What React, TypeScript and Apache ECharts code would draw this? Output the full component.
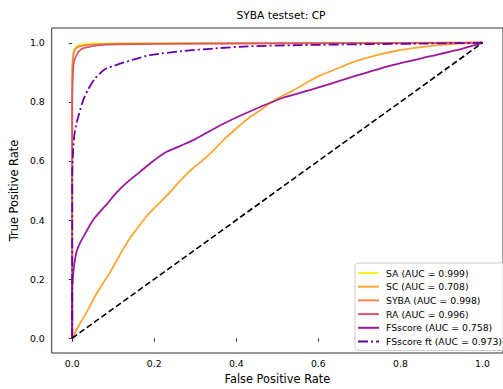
import React, { useEffect, useRef } from "react";
import * as echarts from "echarts";

const FONT = "DejaVu Sans";

const xTicks = [0, 0.2, 0.4, 0.6, 0.8, 1.0];
const yTicks = [0, 0.2, 0.4, 0.6, 0.8, 1.0];

const seriesNames = [
  "SA (AUC = 0.999)",
  "SC (AUC = 0.708)",
  "SYBA (AUC = 0.998)",
  "RA (AUC = 0.996)",
  "FSscore (AUC = 0.758)",
  "FSscore ft (AUC = 0.973)",
];

const saFpr = [0, 0, 0.002, 0.006, 0.012, 0.025, 0.06, 0.2, 1];
const saTpr = [0, 0.9, 0.955, 0.98, 0.99, 0.995, 0.998, 0.999, 1];

const scFpr = [0, 0.01, 0.02, 0.034, 0.054, 0.075, 0.094, 0.118, 0.141, 0.162, 0.181, 0.2, 0.22, 0.24, 0.26, 0.28, 0.3, 0.324, 0.348, 0.371, 0.4, 0.427, 0.46, 0.49, 0.515, 0.538, 0.57, 0.601, 0.645, 0.688, 0.74, 0.791, 0.85, 0.902, 0.95, 1];
const scTpr = [0, 0.027, 0.052, 0.085, 0.138, 0.186, 0.227, 0.287, 0.339, 0.378, 0.412, 0.44, 0.468, 0.497, 0.528, 0.557, 0.582, 0.609, 0.641, 0.674, 0.71, 0.742, 0.773, 0.803, 0.822, 0.838, 0.864, 0.887, 0.912, 0.936, 0.957, 0.973, 0.985, 0.993, 0.997, 1];

const sybaFpr = [0, 0, 0.002, 0.006, 0.015, 0.04, 0.1, 0.3, 1];
const sybaTpr = [0, 0.88, 0.95, 0.975, 0.987, 0.993, 0.996, 0.998, 1];

const raFpr = [0, 0, 0.002, 0.004, 0.011, 0.023, 0.046, 0.077, 0.2, 0.5, 1];
const raTpr = [0, 0.8, 0.9, 0.932, 0.96, 0.979, 0.988, 0.993, 0.996, 0.998, 1];

const fsFpr = [0, 0, 0.002, 0.005, 0.011, 0.02, 0.03, 0.042, 0.054, 0.07, 0.086, 0.1, 0.118, 0.14, 0.165, 0.195, 0.229, 0.265, 0.3, 0.36, 0.427, 0.514, 0.585, 0.688, 0.776, 0.871, 0.934, 1];
const fsTpr = [0, 0.17, 0.21, 0.25, 0.294, 0.325, 0.35, 0.38, 0.406, 0.432, 0.456, 0.48, 0.507, 0.535, 0.563, 0.597, 0.63, 0.652, 0.674, 0.72, 0.764, 0.814, 0.842, 0.887, 0.923, 0.954, 0.974, 1];

const ftFpr = [0, 0, 0.002, 0.005, 0.011, 0.017, 0.023, 0.031, 0.039, 0.054, 0.078, 0.11, 0.149, 0.189, 0.268, 0.348, 0.427, 0.55, 0.7, 0.85, 1];
const ftTpr = [0, 0.55, 0.63, 0.686, 0.73, 0.76, 0.79, 0.82, 0.842, 0.876, 0.909, 0.926, 0.943, 0.958, 0.972, 0.981, 0.988, 0.992, 0.995, 0.997, 1];

const diagFpr = [0, 1];
const diagTpr = [0, 1];

const colors = ["#f0f921", "#fca636", "#f2844b", "#d8576b", "#9c179e", "#6a00a8"];

const zip = (xs: number[], ys: number[]) => xs.map((x, i) => [x, ys[i]]);

export default function App() {
  const ref = useRef<HTMLDivElement>(null);
  useEffect(() => {
    document.body.style.margin = "0";
    if (!ref.current) return;
    const chart = echarts.init(ref.current, undefined, { renderer: "svg" });
    const curves = [
      zip(saFpr, saTpr),
      zip(scFpr, scTpr),
      zip(sybaFpr, sybaTpr),
      zip(raFpr, raTpr),
      zip(fsFpr, fsTpr),
      zip(ftFpr, ftTpr),
    ];
    const series: any[] = curves.map((d, i) => ({
      name: seriesNames[i],
      type: "line",
      data: d,
      symbol: "none",
      showSymbol: false,
      smooth: 0.2,
      lineStyle: {
        color: colors[i],
        width: 1.8,
        type: i === 5 ? [10, 3, 2, 3] : "solid",
      },
      itemStyle: { color: colors[i] },
      z: 2 + i,
    }));
    series.push({
      name: "diag",
      type: "line",
      data: zip(diagFpr, diagTpr),
      symbol: "none",
      lineStyle: { color: "#000", width: 1.6, type: [6, 3] },
      z: 10,
    });
    chart.setOption({
      animation: false,
      backgroundColor: "#fff",
      title: {
        text: "SYBA testset: CP",
        left: 281,
        textAlign: "center",
        top: 10,
        padding: 0,
        textStyle: { fontFamily: FONT, fontSize: 10.7, fontWeight: "normal", color: "#000" },
      },
      grid: {
        left: 50,
        top: 28,
        width: 462,
        height: 328,
        show: true,
        borderColor: "#000",
        borderWidth: 0.8,
        containLabel: false,
      },
      legend: {
        data: seriesNames,
        orient: "vertical",
        left: 355,
        top: 263,
        padding: [4, 4, 3, 2],
        itemWidth: 21,
        itemHeight: 12,
        itemGap: 1.7,
        backgroundColor: "rgba(255,255,255,0.8)",
        borderColor: "#cccccc",
        borderWidth: 1,
        borderRadius: 3,
        itemStyle: { opacity: 0, borderWidth: 0 },
        textStyle: {
          fontFamily: FONT,
          fontSize: 9.3,
          color: "#000",
          lineHeight: 12,
          padding: [0, 0, 0, 2],
        },
      },
      xAxis: {
        type: "value",
        min: -0.05,
        max: 1.05,
        name: "False Positive Rate",
        nameLocation: "middle",
        nameGap: 20,
        nameTextStyle: { fontFamily: FONT, fontSize: 11.4, color: "#000" },
        axisLine: { show: false },
        splitLine: { show: false },
        axisTick: {
          show: true,
          length: 3.5,
          customValues: xTicks,
          lineStyle: { color: "#000", width: 0.8 },
        },
        axisLabel: {
          customValues: xTicks,
          formatter: (v: number) => v.toFixed(1),
          fontFamily: FONT,
          fontSize: 9.3,
          color: "#000",
          margin: 6,
        },
      },
      yAxis: {
        type: "value",
        min: -0.05,
        max: 1.05,
        name: "True Positive Rate",
        nameLocation: "middle",
        nameGap: 26,
        nameTextStyle: { fontFamily: FONT, fontSize: 11.4, color: "#000" },
        axisLine: { show: false },
        splitLine: { show: false },
        axisTick: {
          show: true,
          length: 3.5,
          customValues: yTicks,
          lineStyle: { color: "#000", width: 0.8 },
        },
        axisLabel: {
          customValues: yTicks,
          formatter: (v: number) => v.toFixed(1),
          fontFamily: FONT,
          fontSize: 9.3,
          color: "#000",
          margin: 7,
        },
      },
      series,
    });
    return () => chart.dispose();
  }, []);
  return <div ref={ref} style={{ width: 503, height: 389 }} />;
}
